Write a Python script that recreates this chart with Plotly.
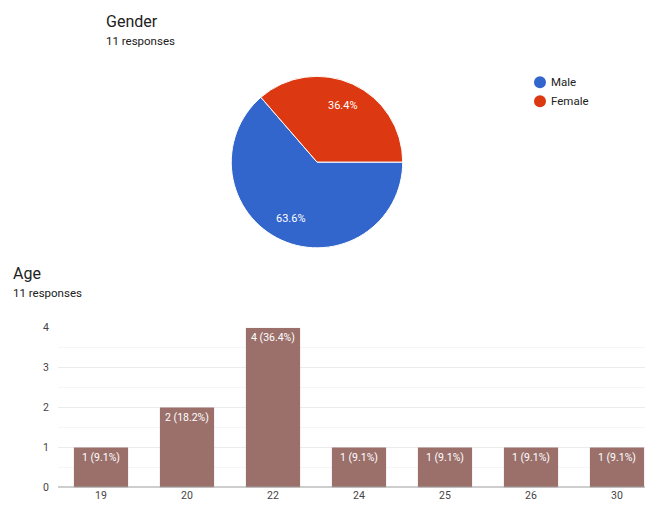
import math
import plotly.graph_objects as go

# page body keeps its 8px margin, so the figure is 8px smaller on each side
OFF = 8
W, H = 653 - OFF, 513 - OFF

GENDER = ["Male", "Female"]
GENDER_COUNTS = [7, 4]
GENDER_COLORS = ["#3366cc", "#dc3912"]

AGES = ["19", "20", "22", "24", "25", "26", "30"]
AGE_COUNTS = [1, 2, 4, 1, 1, 1, 1]
TOTAL = 11

BAR_COLOR = "#9b706b"
FONT = "Roboto, Arial, sans-serif"

# pie geometry in screen pixels
PIE_CX, PIE_CY, PIE_R = 317, 160, 88


def px_x(x):
    return (x - OFF) / W


def px_y(y):
    return 1 - (y - OFF) / H


fig = go.Figure()

# Gender pie, starts at 3 o'clock and runs clockwise like the Forms chart
fig.add_trace(go.Pie(
    labels=GENDER,
    values=GENDER_COUNTS,
    marker=dict(colors=GENDER_COLORS, line=dict(color="white", width=1)),
    sort=False,
    direction="clockwise",
    rotation=90,
    textinfo="none",
    domain=dict(x=[px_x(PIE_CX - PIE_R), px_x(PIE_CX + PIE_R)],
                y=[px_y(PIE_CY + PIE_R), px_y(PIE_CY - PIE_R)]),
    showlegend=False,
    hoverinfo="label+value+percent",
))

# Age bars
labels = [f"{c} ({c / TOTAL:.1%})" for c in AGE_COUNTS]
fig.add_trace(go.Bar(
    x=AGES,
    y=AGE_COUNTS,
    marker=dict(color=BAR_COLOR, line=dict(width=0)),
    text=labels,
    textposition="inside",
    insidetextanchor="end",
    constraintext="none",
    textangle=0,
    textfont=dict(family=FONT, size=10.5, color="white"),
    showlegend=False,
    hoverinfo="x+y",
))

annotations = [
    dict(text="Gender", x=px_x(104), y=px_y(15.5), yanchor="middle",
         font=dict(family=FONT, size=16, color="#212121")),
    dict(text="11 responses", x=px_x(104), y=px_y(35.5), yanchor="middle",
         font=dict(family=FONT, size=11.5, color="#212121")),
    dict(text="Age", x=px_x(11), y=px_y(274.5), yanchor="middle",
         font=dict(family=FONT, size=16, color="#212121")),
    dict(text="11 responses", x=px_x(11), y=px_y(294.5), yanchor="middle",
         font=dict(family=FONT, size=11.5, color="#212121")),
]

# slice labels at ~0.72 of the radius, like Google charts
start = 0.0
for count in GENDER_COUNTS:
    frac = count / TOTAL
    mid = math.radians(start - frac * 180)
    start -= frac * 360
    annotations.append(dict(
        text=f"{frac:.1%}",
        x=px_x(PIE_CX + 0.72 * PIE_R * math.cos(mid)),
        y=px_y(PIE_CY - 0.72 * PIE_R * math.sin(mid)),
        xanchor="center", yanchor="middle",
        font=dict(family=FONT, size=11, color="white"),
    ))

# legend drawn by hand to get round keys
shapes = [
    dict(type="line", xref="paper", yref="y", x0=px_x(58), x1=1, y0=0, y1=0,
         line=dict(color="#9e9e9e", width=2), layer="above"),
]
for i, (name, color) in enumerate(zip(GENDER, GENDER_COLORS)):
    ly = 78 + i * 19.5
    shapes.append(dict(
        type="circle", xref="paper", yref="paper",
        xsizemode="pixel", ysizemode="pixel",
        xanchor=px_x(540), yanchor=px_y(ly),
        x0=-6, x1=6, y0=-6, y1=6,
        fillcolor=color, line=dict(width=0),
    ))
    annotations.append(dict(
        text=name, x=px_x(549), y=px_y(ly), yanchor="middle",
        font=dict(family=FONT, size=11.5, color="#222"),
    ))

for a in annotations:
    a.setdefault("xref", "paper")
    a.setdefault("yref", "paper")
    a.setdefault("xanchor", "left")
    a.setdefault("showarrow", False)

fig.update_layout(
    width=W,
    height=H,
    margin=dict(l=0, r=0, t=0, b=0),
    paper_bgcolor="white",
    plot_bgcolor="white",
    font=dict(family=FONT, color="#444"),
    showlegend=False,
    bargap=0.37,
    xaxis=dict(
        domain=[px_x(58), 1],
        range=[-0.5, -0.5 + (653 - 58) / 86],
        showgrid=False,
        zeroline=False,
        showline=False,
        ticks="",
        tickfont=dict(size=10.5, color="#444"),
        fixedrange=True,
    ),
    yaxis=dict(
        domain=[px_y(494), px_y(330)],
        range=[0, 4],
        tickvals=[0, 1, 2, 3, 4],
        showgrid=True,
        gridcolor="#ebebeb",
        gridwidth=1,
        minor=dict(dtick=0.5, showgrid=True, gridcolor="#f5f5f5", gridwidth=1),
        zeroline=False,
        showline=False,
        ticks="",
        ticklabelstandoff=8,
        tickfont=dict(size=10.5, color="#444"),
        fixedrange=True,
    ),
    shapes=shapes,
    annotations=annotations,
)

fig.write_html("out.html")
